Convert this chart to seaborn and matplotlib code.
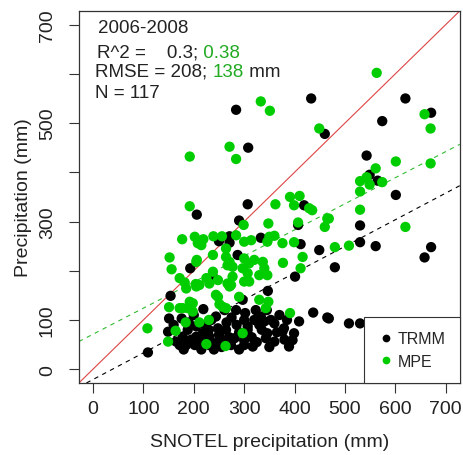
import numpy as np
import pandas as pd
import matplotlib
matplotlib.use("Agg")
import matplotlib.pyplot as plt
import seaborn as sns

# ---------------- data ----------------
trmm_x = [284, 433, 620, 574, 671, 460, 308, 543, 549, 565, 601, 530, 530, 561, 671, 658,
          480, 468, 508, 530, 206, 307, 419, 407, 290, 333, 412, 449, 401, 347, 437, 465,
          250, 271, 271, 287, 193, 238, 297, 154, 109, 151, 149, 165, 176, 219, 244, 323,
          284, 302, 261, 300, 307, 333, 340, 353, 360, 330, 409, 376, 379, 399, 396, 389,
          346, 360, 343, 307, 281, 274, 300, 317, 264, 300, 188, 178, 185, 172, 205, 205,
          218, 202, 231, 248, 244, 257, 231, 190, 195, 210, 222, 235, 250, 265, 270, 285,
          290, 315, 325, 335, 350, 365, 370, 380, 215, 160, 180, 240, 290, 320, 230, 255,
          275, 345, 385, 200, 225]
trmm_y = [527, 550, 550, 504, 521, 478, 450, 434, 395, 383, 354, 292, 258, 250, 248, 227,
          207, 103, 93, 93, 314, 335, 333, 293, 302, 267, 254, 242, 188, 159, 115, 105,
          260, 270, 257, 232, 205, 188, 141, 149, 34, 103, 76, 56, 103, 122, 107, 120,
          120, 114, 120, 100, 87, 107, 97, 100, 93, 90, 97, 76, 83, 73, 59, 46,
          73, 56, 63, 80, 63, 49, 49, 46, 80, 59, 80, 66, 49, 49, 87, 66,
          73, 49, 66, 83, 53, 59, 49, 95, 60, 55, 90, 100, 70, 95, 65, 90,
          75, 65, 55, 80, 45, 75, 110, 60, 40, 90, 40, 40, 40, 100, 80, 45,
          105, 120, 100, 110, 60]

mpe_x = [192, 333, 351, 271, 284, 563, 658, 670, 670, 449, 601, 561, 543, 530, 549, 574,
         530, 391, 410, 530, 620, 508, 480, 468, 192, 362, 399, 429, 435, 465, 460, 407,
         348, 299, 350, 360, 376, 399, 416, 412, 377, 348, 343, 330, 391, 108, 151, 149,
         164, 184, 188, 178, 198, 211, 225, 263, 248, 251, 271, 290, 264, 297, 177, 202,
         208, 219, 215, 239, 256, 284, 152, 156, 206, 238, 172, 182, 204, 225, 248, 231,
         264, 271, 277, 277, 267, 300, 314, 346, 300, 310, 297, 307, 320, 337, 340, 330,
         346, 300, 310, 192, 198, 172, 211, 274, 238, 205, 185, 244, 257, 264, 267, 205,
         230]
mpe_y = [432, 544, 525, 452, 427, 602, 518, 489, 418, 489, 422, 408, 390, 382, 375, 380,
         361, 350, 352, 324, 289, 251, 248, 306, 331, 335, 333, 327, 323, 306, 289, 298,
         296, 293, 269, 271, 256, 258, 228, 205, 216, 137, 124, 141, 114, 83, 126, 56,
         78, 95, 124, 124, 134, 95, 51, 47, 147, 132, 168, 147, 124, 73, 264, 269,
         256, 264, 252, 270, 270, 272, 227, 203, 222, 232, 185, 176, 173, 185, 181, 174,
         228, 218, 208, 188, 174, 259, 262, 259, 225, 215, 205, 195, 222, 218, 205, 191,
         191, 178, 178, 137, 117, 124, 171, 171, 198, 168, 164, 151, 127, 245, 211, 218,
         100]

# regression fits (intercept, slope)
trmm_fit = (-21.0, 0.541)
mpe_fit = (71.0, 0.530)

sensors = ["TRMM", "MPE"]
colors = {"TRMM": "black", "MPE": "#00CD00"}

x_ticks = [0, 100, 200, 300, 400, 500, 600, 700]
y_ticks = [0, 100, 200, 300, 400, 500, 600, 700]
y_tick_labels = ["0", "100", "", "300", "", "500", "", "700"]

df = pd.concat([
    pd.DataFrame({"snotel": trmm_x, "precip": trmm_y, "Sensor": "TRMM"}),
    pd.DataFrame({"snotel": mpe_x, "precip": mpe_y, "Sensor": "MPE"}),
], ignore_index=True)

# ---------------- plotting ----------------
sns.set_style("ticks")
plt.rcParams["font.family"] = ["Liberation Sans", "DejaVu Sans"]

fig = plt.figure(figsize=(4.64, 4.56), dpi=100)
ax = fig.add_axes([0.170, 0.158, 0.821, 0.816])

sns.scatterplot(data=df, x="snotel", y="precip", hue="Sensor", hue_order=sensors,
                palette=colors, s=55, linewidth=0, ax=ax, zorder=3)

ax.axline((0, 0), slope=1, color="#dd4444", lw=0.8, zorder=2)
ax.axline((0, trmm_fit[0]), slope=trmm_fit[1], color="black", lw=0.8,
          ls=(0, (4, 4)), zorder=2)
ax.axline((0, mpe_fit[0]), slope=mpe_fit[1], color="#33bb33", lw=0.8,
          ls=(0, (4, 4)), zorder=2)

ax.set_xlim(-28, 728)
ax.set_ylim(-28, 728)
ax.set_xticks(x_ticks)
ax.set_xticklabels([str(v) for v in x_ticks], fontsize=14)
ax.set_yticks(y_ticks)
ax.set_yticklabels(y_tick_labels, fontsize=14, rotation=90, va="center")
ax.tick_params(direction="out", length=7.5, width=0.8, colors="#333333")
ax.tick_params(axis="x", labelcolor="#222222", pad=5)
ax.tick_params(axis="y", labelcolor="#222222", pad=9)
for sp in ax.spines.values():
    sp.set_visible(True)
    sp.set_linewidth(0.9)
    sp.set_color("#333333")

ax.set_xlabel("SNOTEL precipitation (mm)", fontsize=14, color="#222222", labelpad=11)
ax.set_ylabel("Precipitation (mm)", fontsize=14, color="#222222", labelpad=5)

# annotation block
fs = 13.5
t1 = ax.text(0.050, 0.944, "2006-2008", transform=ax.transAxes, fontsize=fs,
             va="baseline", ha="left", color="#222222")
t2 = ax.text(0.047, 0.876, "R^2 =    0.3;", transform=ax.transAxes, fontsize=fs,
             va="baseline", ha="left", color="#222222")
ax.annotate(" 0.38", xy=(1, 0), xycoords=t2, va="bottom", ha="left",
            fontsize=fs, color="#22aa22")
t3 = ax.text(0.042, 0.826, "RMSE = 208", transform=ax.transAxes, fontsize=fs,
             va="baseline", ha="left", color="#222222")
t3b = ax.annotate("; ", xy=(1, 0), xycoords=t3, va="bottom", ha="left",
                  fontsize=fs, color="#222222")
t3c = ax.annotate("138", xy=(1, 0), xycoords=t3b, va="bottom", ha="left",
                  fontsize=fs, color="#22aa22")
ax.annotate(" mm", xy=(1, 0), xycoords=t3c, va="bottom", ha="left",
            fontsize=fs, color="#222222")
ax.text(0.042, 0.768, "N = 117", transform=ax.transAxes, fontsize=fs,
        va="baseline", ha="left", color="#222222")

sns.move_legend(ax, "lower right", title=None, frameon=True, borderaxespad=0,
                fancybox=False, edgecolor="#333333", framealpha=1, fontsize=11.5,
                markerscale=0.75, handletextpad=0.2, borderpad=0.9,
                labelspacing=0.45, handlelength=1.0)
leg = ax.get_legend()
leg.get_frame().set_linewidth(0.8)

fig.savefig("out.png", dpi=100)
